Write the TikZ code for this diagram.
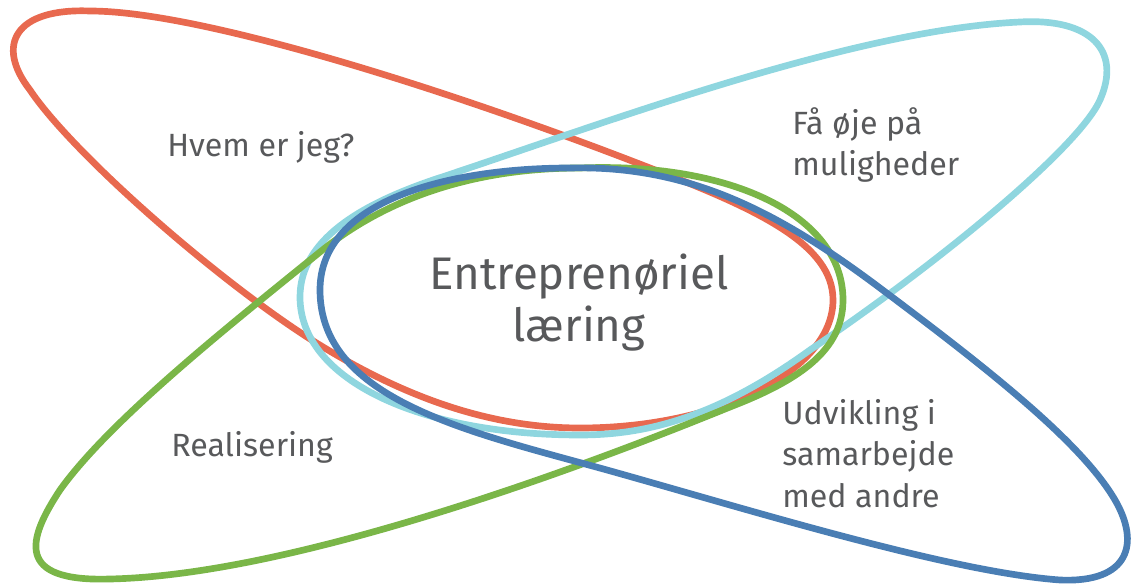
\documentclass[tikz,border=0pt]{standalone}
\usepackage{fontspec}
\setmainfont{Fira Sans}
\definecolor{cred}{HTML}{E8694F}
\definecolor{cgreen}{HTML}{7AB648}
\definecolor{ccyan}{HTML}{8FD6DF}
\definecolor{cblue}{HTML}{4A7EB4}
\definecolor{ctext}{HTML}{58595B}
\begin{document}
\begin{tikzpicture}[x=0.02cm,y=-0.02cm,
  petal/.style={line width=3.8pt, line join=round},
  lbl/.style={text=ctext, font=\fontsize{18.3}{22}\selectfont, inner sep=0pt, anchor=base west},
  biglbl/.style={text=ctext, font=\fontsize{26}{30}\selectfont, inner sep=0pt, anchor=base}]
\useasboundingbox (0,0) rectangle (1133,587);
% red petal (tip top-left)
\draw[petal, cred] (30,90) .. controls (-5,45) and (15,8) .. (90,11)
  .. controls (200,11) and (450,90) .. (650,168)
  .. controls (760,210) and (833,245) .. (833,300)
  .. controls (833,370) and (720,428) .. (580,428)
  .. controls (480,428) and (390,390) .. (307,337)
  .. controls (207,272) and (70,150) .. cycle;
% cyan petal (tip top-right)
\draw[petal, ccyan] (1020,22) .. controls (1090,18) and (1122,50) .. (1100,100)
  .. controls (1080,145) and (950,255) .. (810,350)
  .. controls (720,415) and (650,435) .. (580,435)
  .. controls (420,435) and (300,380) .. (300,297)
  .. controls (300,240) and (360,205) .. (433,180)
  .. controls (600,125) and (850,30) .. cycle;
% green petal (tip bottom-left)
\draw[petal, cgreen] (60,490) .. controls (27,540) and (15,582) .. (110,579)
  .. controls (300,575) and (600,460) .. (730,407)
  .. controls (800,380) and (843,350) .. (843,300)
  .. controls (843,215) and (730,162) .. (580,168)
  .. controls (480,168) and (390,195) .. (320,252)
  .. controls (230,325) and (110,420) .. cycle;
% blue petal (tip bottom-right)
\draw[petal, cblue] (570,168) .. controls (690,165) and (780,213) .. (880,288)
  .. controls (980,363) and (1080,440) .. (1115,500)
  .. controls (1140,543) and (1130,583) .. (1060,580)
  .. controls (950,572) and (750,510) .. (607,470)
  .. controls (470,432) and (320,400) .. (320,290)
  .. controls (320,200) and (450,168) .. cycle;
% labels
\node[biglbl] (c1) at (579,290) {Entreprenøriel};
\node[biglbl] (c2) at (579,342) {læring};
\node[lbl] (h) at (167,157) {Hvem er jeg?};
\node[lbl] (f1) at (792,135) {Få øje på};
\node[lbl] (f2) at (792,176) {muligheder};
\node[lbl] (r) at (171,457) {Realisering};
\node[lbl] (u1) at (782,425) {Udvikling i};
\node[lbl] (u2) at (782,466) {samarbejde};
\node[lbl] (u3) at (782,507) {med andre};
\end{tikzpicture}
\end{document}
